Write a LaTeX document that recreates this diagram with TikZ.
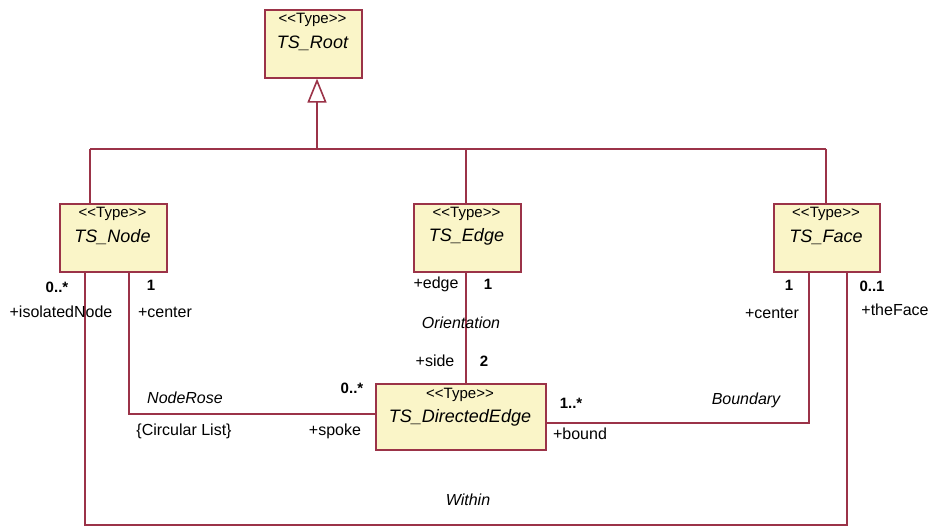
\documentclass[tikz,border=0pt]{standalone}
\usepackage{fontspec}
\setmainfont{Liberation Sans}
\usetikzlibrary{arrows.meta}
\definecolor{umlline}{HTML}{9B3348}
\definecolor{umlfill}{HTML}{FAF5C8}
\newcommand{\stype}{<{}<Type>{}>}
\begin{document}
\begin{tikzpicture}[x=1pt,y=-1pt,
 cls/.style={draw=umlline, fill=umlfill, line width=1.6pt, inner sep=0pt, anchor=north west},
 conn/.style={draw=umlline, line width=1.6pt},
 lbl/.style={font=\fontsize{16}{18}\selectfont, inner sep=0pt},
 mult/.style={font=\fontsize{15}{17}\selectfont\bfseries, inner sep=0pt},
 aname/.style={font=\fontsize{16}{18}\selectfont\itshape, inner sep=0pt},
 stereo/.style={font=\fontsize{15}{17}\selectfont, inner sep=0pt},
 cname/.style={font=\fontsize{18}{20}\selectfont\itshape, inner sep=0pt}]
\useasboundingbox[fill=white] (0,0) rectangle (939,528);

% classes
\node[cls, minimum width=97pt, minimum height=68pt] (root) at (264,9) {};
\node[stereo] (rootS) at (312.5,20) {\stype};
\node[cname] (rootN) at (312.5,43) {TS\_Root};

\node[cls, minimum width=107pt, minimum height=68pt] (tsnode) at (59,203) {};
\node[stereo] (nodeS) at (112.5,214) {\stype};
\node[cname] (nodeN) at (112.5,237) {TS\_Node};

\node[cls, minimum width=107pt, minimum height=68pt] (tsedge) at (413,203) {};
\node[stereo] (edgeS) at (466.5,214) {\stype};
\node[cname] (edgeN) at (466.5,237) {TS\_Edge};

\node[cls, minimum width=106pt, minimum height=68pt] (tsface) at (773,203) {};
\node[stereo] (faceS) at (826,214) {\stype};
\node[cname] (faceN) at (826,237) {TS\_Face};

\node[cls, minimum width=170pt, minimum height=66pt] (tsdir) at (375,383) {};
\node[stereo] (dirS) at (460,395) {\stype};
\node[cname] (dirN) at (460,418) {TS\_DirectedEdge};

% generalization
\coordinate (bar) at (317,149);
\coordinate (barL) at (90,149);
\coordinate (barR) at (826,149);
\coordinate (barM) at (466,149);
\draw[conn] (barL) -- (barR);
\draw[conn] (barL) -- (barL |- tsnode.north);
\draw[conn] (barM) -- (barM |- tsedge.north);
\draw[conn] (barR) -- (barR |- tsface.north);
\draw[conn, -{Triangle[open, length=24pt, width=19pt, line width=1.6pt]}] (bar) -- (bar |- root.south);

% NodeRose
\coordinate (nrTop) at (129,271);
\coordinate (nrBend) at (129,414);
\draw[conn] (nrTop) -- (nrBend) -- (nrBend -| tsdir.west);

% Orientation
\coordinate (orTop) at (466,271);
\draw[conn] (orTop) -- (orTop |- tsdir.north);

% Boundary
\coordinate (bdBend) at (809,423);
\draw[conn] (bdBend -| tsdir.east) -- (bdBend) -- (bdBend |- tsface.south);

% Within
\coordinate (wiA) at (85,525);
\coordinate (wiB) at (847,525);
\draw[conn] (wiA |- tsnode.south) -- (wiA) -- (wiB) -- (wiB |- tsface.south);

% labels
\node[mult] (m1) at (57,287) {0..*};
\node[lbl] (l1) at (61,312) {+isolatedNode};
\node[mult] (m2) at (151,285) {1};
\node[lbl] (l2) at (165,312) {+center};
\node[aname] (a1) at (185,398) {NodeRose};
\node[lbl] (l3) at (184,431) {\{Circular List\}};
\node[mult] (m3) at (352,388) {0..*};
\node[lbl] (l4) at (335,431) {+spoke};

\node[lbl] (l5) at (436,284) {+edge};
\node[mult] (m4) at (488,284) {1};
\node[aname] (a2) at (461,323) {Orientation};
\node[lbl] (l6) at (435,361) {+side};
\node[mult] (m5) at (484,361) {2};

\node[mult] (m6) at (571,403) {1..*};
\node[lbl] (l7) at (580,434) {+bound};
\node[aname] (a3) at (746,400) {Boundary};

\node[mult] (m7) at (789,285) {1};
\node[lbl] (l8) at (772,313) {+center};
\node[mult] (m8) at (872,286) {0..1};
\node[lbl] (l9) at (895,310) {+theFace};

\node[aname] (a4) at (468,500) {Within};
\end{tikzpicture}
\end{document}
